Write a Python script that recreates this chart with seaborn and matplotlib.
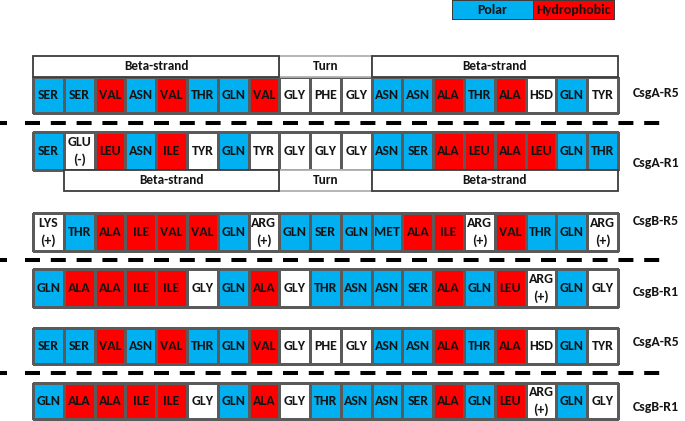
import numpy as np
import pandas as pd
import matplotlib
matplotlib.use("Agg")
import matplotlib.pyplot as plt
from matplotlib import font_manager
from matplotlib.colors import ListedColormap
from matplotlib.patches import Rectangle
import seaborn as sns

# ---------------- data ----------------
row_names = ["CsgA-R5", "CsgA-R1", "CsgB-R5", "CsgB-R1", "CsgA-R5", "CsgB-R1"]

csga_r5_res = ["SER", "SER", "VAL", "ASN", "VAL", "THR", "GLN", "VAL", "GLY", "PHE",
               "GLY", "ASN", "ASN", "ALA", "THR", "ALA", "HSD", "GLN", "TYR"]
csga_r5_cls = ["P", "P", "H", "P", "H", "P", "P", "H", "N", "N",
               "N", "P", "P", "H", "P", "H", "N", "P", "N"]

csga_r1_res = ["SER", "GLU\n(-)", "LEU", "ASN", "ILE", "TYR", "GLN", "TYR", "GLY", "GLY",
               "GLY", "ASN", "SER", "ALA", "LEU", "ALA", "LEU", "GLN", "THR"]
csga_r1_cls = ["P", "N", "H", "P", "H", "N", "P", "N", "N", "N",
               "N", "P", "P", "H", "H", "H", "H", "P", "P"]

csgb_r5_res = ["LYS\n(+)", "THR", "ALA", "ILE", "VAL", "VAL", "GLN", "ARG\n(+)", "GLN", "SER",
               "GLN", "MET", "ALA", "ILE", "ARG\n(+)", "VAL", "THR", "GLN", "ARG\n(+)"]
csgb_r5_cls = ["N", "P", "H", "H", "H", "H", "P", "N", "P", "P",
               "P", "P", "H", "H", "N", "H", "P", "P", "N"]

csgb_r1_res = ["GLN", "ALA", "ALA", "ILE", "ILE", "GLY", "GLN", "ALA", "GLY", "THR",
               "ASN", "ASN", "SER", "ALA", "GLN", "LEU", "ARG\n(+)", "GLN", "GLY"]
csgb_r1_cls = ["P", "H", "H", "H", "H", "N", "P", "H", "N", "P",
               "P", "P", "P", "H", "P", "H", "N", "P", "N"]

rows_res = [csga_r5_res, csga_r1_res, csgb_r5_res, csgb_r1_res, csga_r5_res, csgb_r1_res]
rows_cls = [csga_r5_cls, csga_r1_cls, csgb_r5_cls, csgb_r1_cls, csga_r5_cls, csgb_r1_cls]

# secondary-structure annotation (start residue, end residue, label)
header_r5 = [(0, 8, "Beta-strand"), (8, 11, "Turn"), (11, 19, "Beta-strand")]
header_r1 = [(1, 8, "Beta-strand"), (8, 11, "Turn"), (11, 19, "Beta-strand")]

legend_labels = ["Polar", "Hydrophobic"]
legend_cls = ["P", "H"]

# ---------------- style ----------------
class_code = {"N": 0, "P": 1, "H": 2}
WHITE, BLUE, RED = "#FFFFFF", "#00B0F0", "#FF0000"
cmap = ListedColormap([WHITE, BLUE, RED])

available = {f.name for f in font_manager.fontManager.ttflist}
HAS_CARLITO = "Carlito" in available
BASE = "Carlito" if HAS_CARLITO else "Lato"
if HAS_CARLITO:
    LABEL_FONT, LABEL_FS = "Carlito", 10
elif "Liberation Sans Narrow" in available:
    LABEL_FONT, LABEL_FS = "Liberation Sans Narrow", 10
else:
    LABEL_FONT, LABEL_FS = "Lato", 9

sns.set_theme(style="white")
plt.rcParams["font.family"] = [BASE, "DejaVu Sans"]
plt.rcParams["lines.scale_dashes"] = False

W, H = 685, 421
fig = plt.figure(figsize=(W / 100, H / 100), dpi=100)

X0, X1 = 33, 618          # pixel extent of the residue grid
LABEL_X = 633

# (cells top, cells bottom, label y)
row_geom = [(77, 113, 93), (132, 170, 163), (213, 251, 221),
            (269, 307, 292), (328, 364, 342), (383, 419, 407)]
header_geom = [(56, 77, header_r5), (170, 191, header_r1)]
dash_ys = [123, 260, 373]

TXT = "#141414"
CELL_FS = 10 if HAS_CARLITO else 9.5
LEGEND_FS = 10 if HAS_CARLITO else 9


def px_axes(x0, x1, y0, y1):
    return fig.add_axes([x0 / W, 1 - y1 / H, (x1 - x0) / W, (y1 - y0) / H])


def draw_row(ax, labels, classes, fs=CELL_FS, lw=0.8, lc="#5a5a5a"):
    codes = np.array([[class_code[c] for c in classes]])
    annot = np.array([labels], dtype=object)
    sns.heatmap(pd.DataFrame(codes), ax=ax, cmap=cmap, vmin=-0.5, vmax=2.5,
                cbar=False, annot=annot, fmt="",
                annot_kws=dict(color=TXT, fontsize=fs, fontweight="bold",
                               linespacing=1.5),
                linewidths=lw, linecolor=lc,
                xticklabels=False, yticklabels=False)
    ax.collections[0].set_clip_on(False)
    ax.set_xlabel("")
    ax.set_ylabel("")


# residue rows
for name, res, cls, (yt, yb, ly) in zip(row_names, rows_res, rows_cls, row_geom):
    ax = px_axes(X0, X1, yt, yb)
    draw_row(ax, res, cls)
    fig.text(LABEL_X / W, 1 - ly / H, name, ha="left", va="center",
             fontsize=LABEL_FS, fontweight="bold", color=TXT,
             family=[LABEL_FONT, "DejaVu Sans"])

# secondary-structure headers
n_res = len(csga_r5_res)
for yt, yb, spans in header_geom:
    ax = px_axes(X0, X1, yt, yb)
    ax.set_xlim(0, n_res)
    ax.set_ylim(0, 1)
    ax.axis("off")
    for s, e, lab in sorted(spans, key=lambda t: t[2] != "Turn"):
        ec = "#b0b0b0" if lab == "Turn" else "#3c3c3c"
        ax.add_patch(Rectangle((s, 0), e - s, 1, facecolor="white",
                               edgecolor=ec, lw=1.3, clip_on=False,
                               zorder=1 if lab == "Turn" else 2))
        ax.text((s + e) / 2, 0.5, lab, ha="center", va="center",
                fontsize=9.5, fontweight="semibold", color=TXT, zorder=3)

# legend
axl = px_axes(452, 614, 0, 19)
draw_row(axl, legend_labels, legend_cls, fs=LEGEND_FS, lw=0.6, lc="#3c3c3c")

# dashed separators
ax0 = fig.add_axes([0, 0, 1, 1], zorder=-1)
ax0.set_xlim(0, W)
ax0.set_ylim(H, 0)
ax0.axis("off")
for y in dash_ys:
    ax0.plot([0, 7], [y, y], color="black", lw=2.9, solid_capstyle="butt")
    ax0.plot([25, 660], [y, y], color="black", lw=2.9,
             dashes=(15 * 0.72, 10.8 * 0.72), dash_capstyle="butt")

fig.savefig("out.png", dpi=100)
